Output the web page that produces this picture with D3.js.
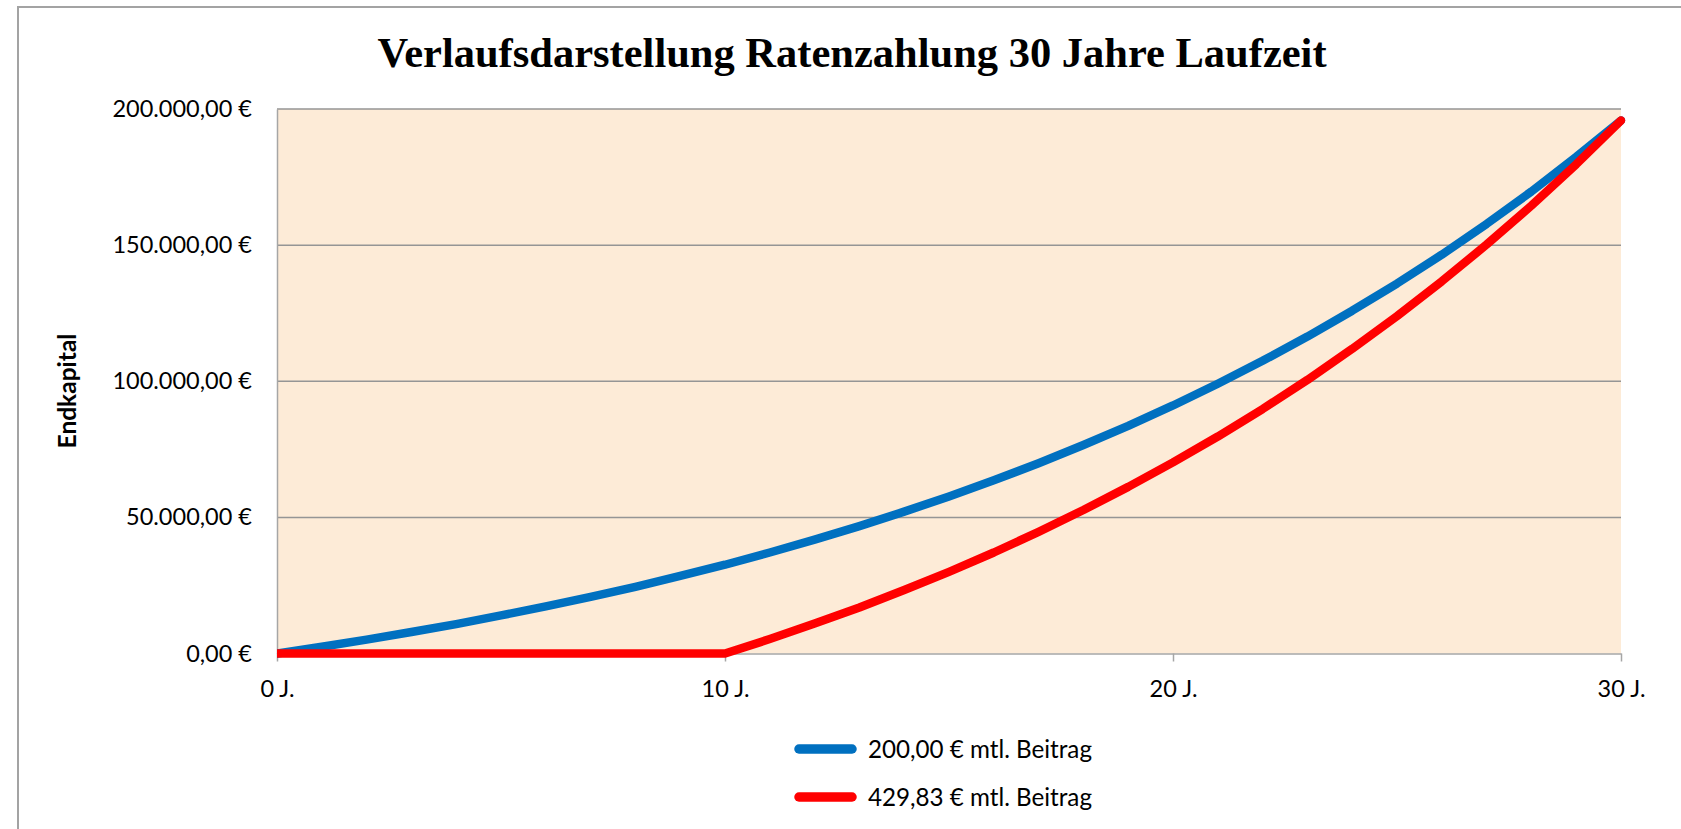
<!DOCTYPE html>
<html><head><meta charset="utf-8">
<script src="https://cdn.jsdelivr.net/npm/d3@7/dist/d3.min.js"></script>
<style>body{margin:0;background:#fff} svg{display:block}</style>
</head><body>
<svg id="c" width="1681" height="829"></svg>
<script>
const title = "Verlaufsdarstellung Ratenzahlung 30 Jahre Laufzeit";
const yAxisTitle = "Endkapital";
const years = [0,1,2,3,4,5,6,7,8,9,10,11,12,13,14,15,16,17,18,19,20,21,22,23,24,25,26,27,28,29,30];
const series1Name = "200,00 € mtl. Beitrag";
const series1 = [0,2500,5100,7900,10800,14000,17300,20800,24500,28500,32600,37100,41800,46800,52100,57700,63600,69900,76600,83600,91100,99100,107500,116400,125900,135900,146500,157800,169700,182400,195800];
const series2Name = "429,83 € mtl. Beitrag";
const series2 = [0,0,0,0,0,0,0,0,0,0,0,5300,11000,16900,23300,30000,37100,44700,52700,61200,70200,79700,89800,100500,111900,123900,136700,150200,164500,179700,195800];
const xTicks = [0,10,20,30];
const xTickLabels = ["0 J.","10 J.","20 J.","30 J."];
const yTicks = [0,50000,100000,150000,200000];

const svg = d3.select("#c");
const W = 1681, H = 829;
const L = 277, R = 1621, T = 109, B = 653.5;
const sans = "Lato, 'Open Sans', sans-serif";

// outer frame
svg.append("rect").attr("x",18).attr("y",7).attr("width",1700).attr("height",900)
  .attr("fill","#fff").attr("stroke","#a3a3a3").attr("stroke-width",2);

const x = d3.scaleLinear().domain([0,30]).range([L,R]);
const y = d3.scaleLinear().domain([0,200000]).range([B,T]);

const loc = d3.formatLocale({decimal:",", thousands:".", grouping:[3], currency:[""," €"]});
const fmt = loc.format("$,.2f");

// plot background
svg.append("rect").attr("x",L).attr("y",T).attr("width",R-L).attr("height",B-T).attr("fill","#fdebd7");

// gridlines
svg.append("g").selectAll("line").data(yTicks.filter(d=>d>0)).join("line")
  .attr("x1",L).attr("x2",R).attr("y1",d=>y(d)).attr("y2",d=>y(d))
  .attr("stroke","#959595").attr("stroke-width",1.5);

// y axis
const gy = svg.append("g").attr("transform",`translate(${L},0)`)
  .call(d3.axisLeft(y).tickValues(yTicks).tickFormat(fmt).tickSize(0).tickPadding(25));
gy.select(".domain").attr("stroke","#a6a6a6").attr("stroke-width",1.5);
gy.selectAll("text").attr("font-family",sans).attr("font-size",23.5).attr("fill","#000");

// x axis
const gx = svg.append("g").attr("transform",`translate(0,${B})`)
  .call(d3.axisBottom(x).tickValues(xTicks).tickFormat((d,i)=>xTickLabels[i]).tickSizeInner(8).tickSizeOuter(0).tickPadding(19));
gx.select(".domain").attr("stroke","#a6a6a6").attr("stroke-width",1.5);
gx.selectAll(".tick line").attr("stroke","#a6a6a6").attr("stroke-width",1.5);
gx.selectAll("text").attr("font-family",sans).attr("font-size",23.5).attr("fill","#000");

// lines
svg.append("defs").append("clipPath").attr("id","clip")
  .append("rect").attr("x",L).attr("y",0).attr("width",W-L).attr("height",B+20);
const line = d3.line().x((d,i)=>x(years[i])).y(d=>y(d));
const gl = svg.append("g").attr("clip-path","url(#clip)");
gl.append("path").datum(series1).attr("d",line).attr("fill","none")
  .attr("stroke","#0070c0").attr("stroke-width",8.5).attr("stroke-linejoin","round").attr("stroke-linecap","round");
gl.append("path").datum(series2).attr("d",line).attr("fill","none")
  .attr("stroke","#ff0000").attr("stroke-width",8.5).attr("stroke-linejoin","round").attr("stroke-linecap","round");

// title
svg.append("text").attr("x",852).attr("y",67).attr("text-anchor","middle")
  .attr("font-family","'Liberation Serif', 'Times New Roman', serif").attr("font-weight","bold")
  .attr("font-size",42.5).attr("fill","#000").text(title);

// y axis title
svg.append("text").attr("transform","translate(66,391) rotate(-90)").attr("text-anchor","middle")
  .attr("dominant-baseline","central").attr("font-family",sans).attr("font-weight","bold")
  .attr("font-size",24.5).attr("fill","#000").text(yAxisTitle);

// legend
const legend = [{name:series1Name,color:"#0070c0",cy:749},{name:series2Name,color:"#ff0000",cy:797}];
const lg = svg.append("g").selectAll("g").data(legend).join("g");
lg.append("line").attr("x1",799).attr("x2",852).attr("y1",d=>d.cy).attr("y2",d=>d.cy)
  .attr("stroke",d=>d.color).attr("stroke-width",9.5).attr("stroke-linecap","round");
lg.append("text").attr("x",868).attr("y",d=>d.cy+8.5).attr("font-family",sans).attr("font-size",24.2)
  .attr("fill","#000").text(d=>d.name);
</script>
</body></html>
